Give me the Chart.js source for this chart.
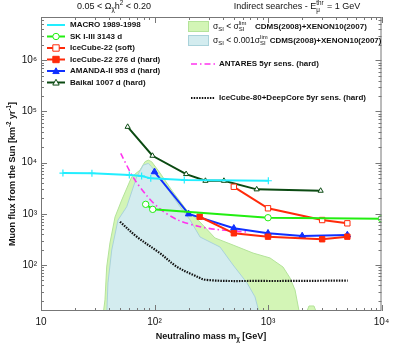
<!DOCTYPE html>
<html><head><meta charset="utf-8">
<script src="https://cdn.jsdelivr.net/npm/chart.js@4/dist/chart.umd.min.js"></script>
<style>html,body{margin:0;padding:0;background:#fff}</style>
</head><body>
<canvas id="c" width="402" height="346"></canvas>
<script>
// ---- data (mass in GeV, muon flux in km^-2 yr^-1) ----
const macroMass = [15.6, 28.1, 60, 77, 92.7, 183, 1007];
const macroFlux = [6240, 6160, 5700, 5450, 4920, 4560, 4420];
const skMass = [83.6, 96.4, 1000, 10000];
const skFlux = [1530, 1220, 837, 800];
const icSoftMass = [500, 1000, 3000, 5000];
const icSoftFlux = [3370, 1280, 755, 651];
const icHardMass = [250, 500, 1000, 3000, 5000];
const icHardFlux = [875, 416, 357, 318, 357];
const amandaMass = [100, 200, 500, 1000, 2000, 5000];
const amandaFlux = [6600, 990, 520, 416, 368, 385];
const baikalMass = [58, 96, 190, 281, 409, 795, 2910];
const baikalFlux = [50000, 13600, 5970, 4410, 4410, 3000, 2820];
const antaresMass = [50.4, 65, 86, 112, 161, 252, 355, 653];
const antaresFlux = [15100, 5140, 2220, 1240, 755, 559, 493, 440];
const ic80Mass = [49.7, 69.7, 112, 157, 220, 288, 851, 5040];
const ic80Flux = [700, 357, 169, 92.7, 63.8, 51, 48.7, 49.5];
// allowed-model regions (upper envelope; lower edge is below the axis)
const greenMass = [35.1, 36.6, 37.9, 40.5, 44.9, 51.4, 63, 74.5, 82.4, 88.1, 94.4, 112, 145, 192, 252, 341, 492, 738, 1042, 1357, 1563, 1730, 1915, 2120, 2296, 2540, 2755];
const greenFlux = [10, 20.8, 91, 269, 865, 1850, 5280, 7140, 10400, 11200, 10400, 6240, 2690, 1180, 690, 337, 245, 171, 137, 91, 55.7, 32.5, 10, 10, 15.8, 15.8, 10];
const blueMass = [37.9, 38.9, 42, 47.7, 56.9, 69.7, 79.6, 88.1, 94.4, 112, 168, 206, 252, 378, 492, 653, 768, 851];
const blueFlux = [10, 44.6, 196, 755, 1370, 5280, 8930, 9640, 8280, 4920, 1370, 755, 352, 224, 100, 44.6, 23.8, 10];
const xTickValues = [10, 100, 1000, 10000];
const yTickValues = [100, 1000, 10000, 100000, 1000000];
const tickLabels = {10: '10', 100: '10\u00B2', 1000: '10\u00B3', 10000: '10\u2074', 100000: '10\u2075', 1000000: '10\u2076'};

const pts = (xs, ys) => xs.map((x, i) => ({x: x, y: ys[i]}));

const FONT = '"Liberation Sans", Arial, Helvetica, sans-serif';
const C = {
  macro: '#22eeff', sk: '#22ee11', ic: '#ff2a0a', am: '#1030ff', bk: '#0b4a12',
  ant: '#ff33ee', ic80: '#111111', gFill: '#d3f5b6', gLine: '#b4e39a', bFill: '#d3ecef', bLine: '#a9d2da'
};

function line(label, data, color, style, opts) {
  return Object.assign({
    label: label, data: data, borderColor: color, backgroundColor: color,
    borderWidth: 2, pointRadius: 3.2, pointStyle: style, pointBorderWidth: 1,
    pointBackgroundColor: color, fill: false, tension: 0, order: 1
  }, opts || {});
}

// draw text with sub/superscripts; parts: [text, kind('n','sub','sup','stack'), bold, subText]
function rich(ctx, x, y, parts, size, align) {
  let w = 0;
  const m = parts.map(p => {
    const bold = p[2] ? 'bold ' : '';
    if (p[1] === 'stack') {
      const s = size * 0.7, f = bold + s + 'px ' + FONT;
      ctx.font = f;
      const ww = Math.max(ctx.measureText(p[0]).width, ctx.measureText(p[3]).width) + 1;
      w += ww;
      return {stack: true, t: p[0], b: p[3], f: f, w: ww};
    }
    const s = p[1] === 'n' ? size : size * 0.7;
    const f = bold + s + 'px ' + FONT;
    ctx.font = f;
    const ww = ctx.measureText(p[0]).width;
    w += ww;
    return {t: p[0], f: f, w: ww, dy: p[1] === 'sub' ? size * 0.3 : (p[1] === 'sup' ? -size * 0.38 : 0)};
  });
  let cx = align === 'center' ? x - w / 2 : (align === 'right' ? x - w : x);
  ctx.textAlign = 'left'; ctx.textBaseline = 'middle';
  m.forEach(p => {
    ctx.font = p.f;
    if (p.stack) {
      ctx.fillText(p.t, cx, y - size * 0.4);
      ctx.fillText(p.b, cx, y + size * 0.35);
    } else ctx.fillText(p.t, cx, y + p.dy);
    cx += p.w;
  });
  return w;
}

function marker(ctx, style, x, y, color, filled) {
  ctx.save();
  ctx.strokeStyle = color; ctx.fillStyle = color; ctx.lineWidth = 1;
  ctx.beginPath();
  const r = 3.2;
  if (style === 'circle') ctx.arc(x, y, r, 0, Math.PI * 2);
  else if (style === 'rect') ctx.rect(x - r, y - r, 2 * r, 2 * r);
  else if (style === 'triangle') { ctx.moveTo(x, y - r); ctx.lineTo(x + r, y + r * 0.8); ctx.lineTo(x - r, y + r * 0.8); ctx.closePath(); }
  if (filled) { ctx.fillStyle = color; ctx.fill(); }
  else { ctx.fillStyle = '#fff'; ctx.fill(); }
  ctx.stroke();
  ctx.restore();
}

const decor = {
  id: 'decor',
  afterDatasetsDraw(chart) {
    const {ctx, chartArea: a, scales: {x, y}} = chart;
    ctx.save();
    ctx.strokeStyle = '#777'; ctx.lineWidth = 1;
    ctx.strokeRect(a.left + 0.5, a.top + 0.5, a.right - a.left - 1, a.bottom - a.top - 1);
    ctx.beginPath();
    for (let d = 10; d <= 10000; d *= 10) {
      for (let k = 1; k <= 9; k++) {
        const v = d * k; if (v > x.max + 1e-9) break;
        const px = Math.round(x.getPixelForValue(v)) + 0.5;
        const L = k === 1 ? 6 : 3;
        ctx.moveTo(px, a.bottom); ctx.lineTo(px, a.bottom - L);
        ctx.moveTo(px, a.top); ctx.lineTo(px, a.top + L);
      }
    }
    for (let d = 10; d <= 1e7; d *= 10) {
      for (let k = 1; k <= 9; k++) {
        const v = d * k; if (v < y.min || v > y.max) continue;
        const py = Math.round(y.getPixelForValue(v)) + 0.5;
        const L = k === 1 ? 6 : 3;
        ctx.moveTo(a.left, py); ctx.lineTo(a.left + L, py);
        ctx.moveTo(a.right, py); ctx.lineTo(a.right - L, py);
      }
    }
    ctx.stroke();
    ctx.restore();
  },
  afterDraw(chart) {
    const {ctx} = chart;
    ctx.save();
    ctx.fillStyle = '#111';
    // top titles
    rich(ctx, 114, 7, [['0.05 < \u03A9', 'n'], ['\u03C7', 'sub'], ['h', 'n'], ['2', 'sup'], [' < 0.20', 'n']], 9, 'center');
    rich(ctx, 297, 7, [['Indirect searches - E', 'n'], ['thr', 'stack', 0, '\u03BC'], [' = 1 GeV', 'n']], 9, 'center');
    // axis titles
    rich(ctx, 211, 337, [['Neutralino mass m', 'n', 1], ['\u03C7', 'sub', 1], [' [GeV]', 'n', 1]], 9, 'center');
    ctx.save(); ctx.translate(13, 174); ctx.rotate(-Math.PI / 2);
    rich(ctx, 0, 0, [['Muon flux from the Sun [km', 'n', 1], ['-2', 'sup', 1], [' yr', 'n', 1], ['-1', 'sup', 1], [']', 'n', 1]], 9, 'center');
    ctx.restore();
    // left legend
    const leg = [
      ['MACRO 1989-1998', C.macro, null, true],
      ['SK I-III 3143 d', C.sk, 'circle', false],
      ['IceCube-22 (soft)', C.ic, 'rect', false],
      ['IceCube-22 276 d (hard)', C.ic, 'rect', true],
      ['AMANDA-II 953 d (hard)', C.am, 'triangle', true],
      ['Baikal 1007 d (hard)', C.bk, 'triangle', false]
    ];
    leg.forEach((e, i) => {
      const yy = 25 + i * 11.5;
      ctx.strokeStyle = e[1]; ctx.lineWidth = 2;
      ctx.beginPath(); ctx.moveTo(47, yy); ctx.lineTo(65, yy); ctx.stroke();
      if (e[2]) marker(ctx, e[2], 56, yy, e[1], e[3]);
      ctx.fillStyle = '#111';
      rich(ctx, 70, yy, [[e[0], 'n', 1]], 8, 'left');
    });
    // right legend: regions
    ctx.fillStyle = C.gFill; ctx.strokeStyle = C.gLine; ctx.lineWidth = 1;
    ctx.fillRect(188, 21.5, 20, 10); ctx.strokeRect(188.5, 21.5, 20, 10);
    ctx.fillStyle = C.bFill; ctx.strokeStyle = C.bLine;
    ctx.fillRect(188, 35.5, 20, 10); ctx.strokeRect(188.5, 35.5, 20, 10);
    ctx.fillStyle = '#111';
    rich(ctx, 213, 26.5, [['\u03C3', 'n'], ['SI', 'sub'], [' < \u03C3', 'n'], ['lim', 'stack', 0, 'SI']], 8.5, 'left');
    rich(ctx, 255, 26.5, [['CDMS(2008)+XENON10(2007)', 'n', 1]], 8, 'left');
    const w2 = rich(ctx, 213, 40.5, [['\u03C3', 'n'], ['SI', 'sub'], [' < 0.001\u03C3', 'n'], ['lim', 'stack', 0, 'SI']], 8.5, 'left');
    rich(ctx, 213 + w2 + 1, 40.5, [['CDMS(2008)+XENON10(2007)', 'n', 1]], 8, 'left');
    // right legend: sensitivities
    ctx.strokeStyle = C.ant; ctx.lineWidth = 1.6; ctx.setLineDash([6, 3, 1.5, 3]);
    ctx.beginPath(); ctx.moveTo(191, 64); ctx.lineTo(215, 64); ctx.stroke();
    ctx.strokeStyle = C.ic80; ctx.lineWidth = 2.2; ctx.setLineDash([1.5, 1.2]);
    ctx.beginPath(); ctx.moveTo(191, 98); ctx.lineTo(215, 98); ctx.stroke();
    ctx.setLineDash([]);
    ctx.fillStyle = '#111';
    rich(ctx, 219, 64, [['ANTARES 5yr sens. (hard)', 'n', 1]], 8, 'left');
    rich(ctx, 219, 98, [['IceCube-80+DeepCore 5yr sens. (hard)', 'n', 1]], 8, 'left');
    ctx.restore();
  }
};

new Chart(document.getElementById('c'), {
  type: 'line',
  data: {
    datasets: [
      {label: 'green', data: pts(greenMass, greenFlux), borderColor: C.gLine, backgroundColor: C.gFill, borderWidth: 1, pointRadius: 0, fill: 'start', order: 10, tension: 0},
      {label: 'blue', data: pts(blueMass, blueFlux), borderColor: C.bLine, backgroundColor: C.bFill, borderWidth: 1, pointRadius: 0, fill: 'start', order: 9, tension: 0},
      line('IceCube-80+DeepCore', pts(ic80Mass, ic80Flux), C.ic80, 'circle', {pointRadius: 0, borderWidth: 2.2, borderDash: [1.5, 1.2], tension: 0.35, order: 5}),
      line('ANTARES', pts(antaresMass, antaresFlux), C.ant, 'circle', {pointRadius: 0, borderWidth: 1.6, borderDash: [6, 3, 1.5, 3], tension: 0.3, order: 4}),
      line('MACRO', pts(macroMass, macroFlux), C.macro, 'cross', {pointRadius: 3.5, pointBorderWidth: 1.2}),
      line('SK', pts(skMass, skFlux), C.sk, 'circle', {pointBackgroundColor: '#fff'}),
      line('IceCube-22 soft', pts(icSoftMass, icSoftFlux), C.ic, 'rect', {pointBackgroundColor: '#fff', pointRadius: 3.8}),
      line('IceCube-22 hard', pts(icHardMass, icHardFlux), C.ic, 'rect', {pointRadius: 3.8}),
      line('AMANDA-II', pts(amandaMass, amandaFlux), C.am, 'triangle', {pointRadius: 3.8}),
      line('Baikal', pts(baikalMass, baikalFlux), C.bk, 'triangle', {pointBackgroundColor: '#fff', pointRadius: 3})
    ]
  },
  options: {
    responsive: false, animation: false, devicePixelRatio: 1,
    layout: {padding: {left: 0, right: 20.5, top: 17, bottom: 0}},
    plugins: {legend: {display: false}, tooltip: {enabled: false}},
    scales: {
      x: {
        type: 'logarithmic', min: 10, max: 10000,
        grid: {display: false, drawTicks: false}, border: {display: false},
        afterBuildTicks: s => { s.ticks = xTickValues.map(v => ({value: v})); },
        afterFit: s => { s.height = 35; },
        ticks: {padding: 5, maxRotation: 0, autoSkip: false, color: '#111', font: {family: FONT, size: 10}, callback: v => tickLabels[v] || ''}
      },
      y: {
        type: 'logarithmic', min: 12.6, max: 7.0e6,
        grid: {display: false, drawTicks: false}, border: {display: false},
        afterBuildTicks: s => { s.ticks = yTickValues.map(v => ({value: v})); },
        afterFit: s => { s.width = 41; },
        ticks: {padding: 4, autoSkip: false, color: '#111', font: {family: FONT, size: 10}, callback: v => tickLabels[v] || ''}
      }
    }
  },
  plugins: [decor]
});
</script>
</body></html>
